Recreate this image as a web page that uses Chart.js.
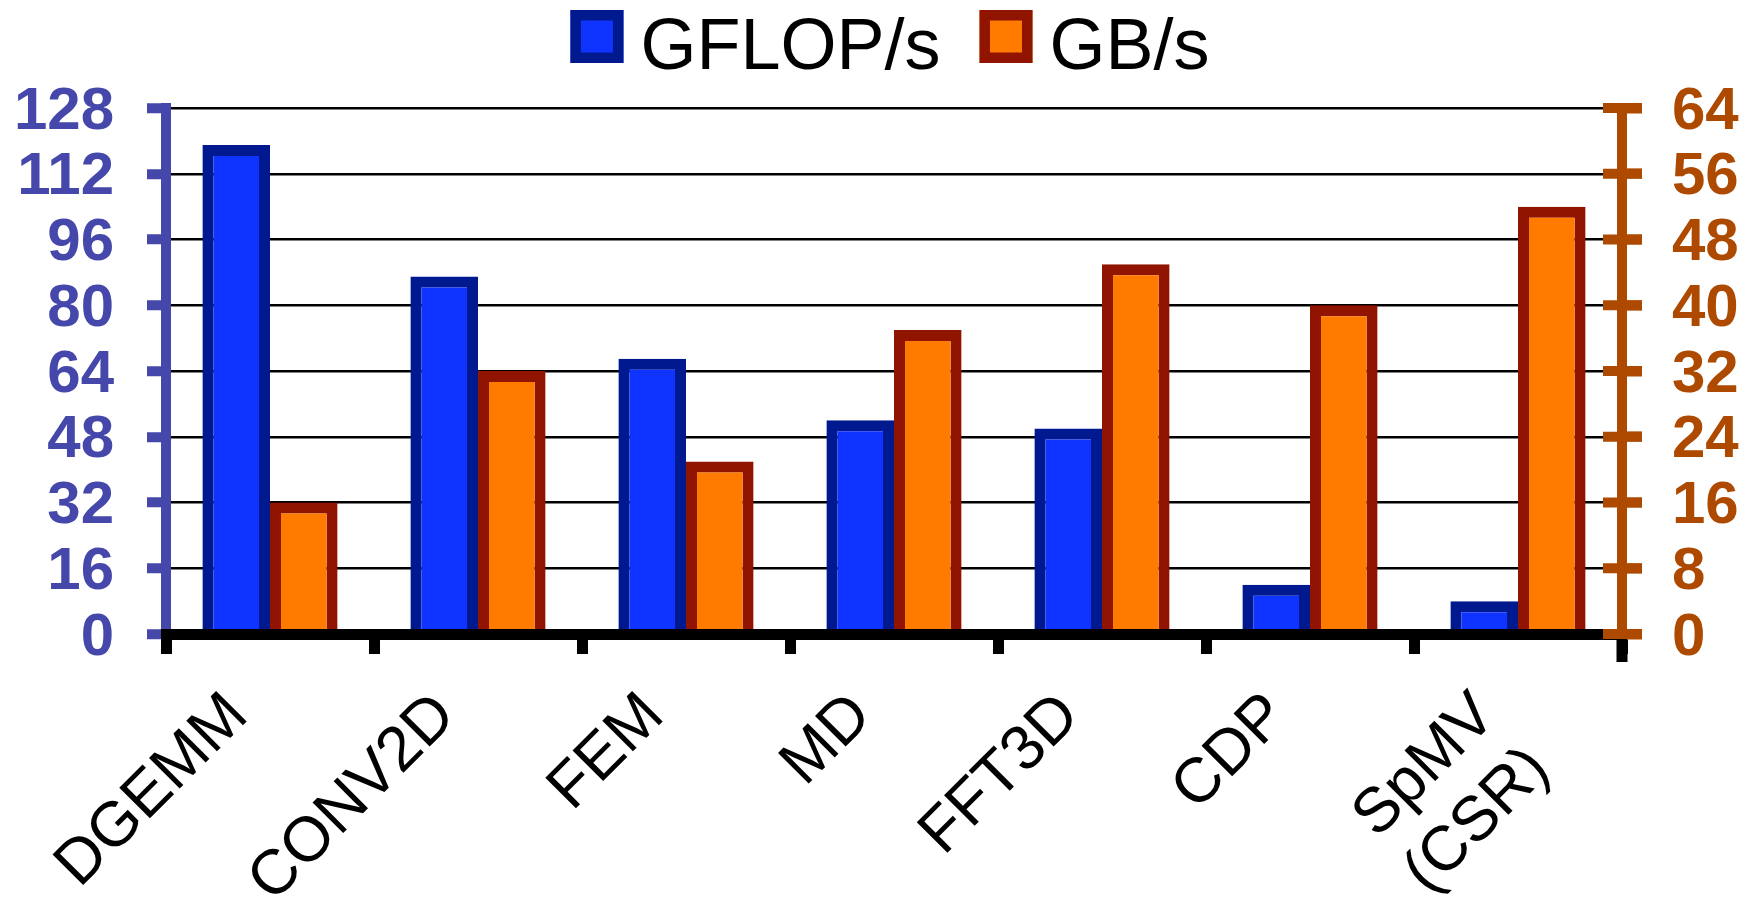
<!DOCTYPE html>
<html>
<head>
<meta charset="utf-8">
<title>GFLOP/s and GB/s by kernel</title>
<script src="https://cdn.jsdelivr.net/npm/chart.js@4.4.1/dist/chart.umd.min.js"></script>
<style>
  html, body { margin: 0; padding: 0; background: #ffffff; overflow: hidden; }
  #wrap { width: 1752px; height: 901px; position: relative; }
  canvas { display: block; }
</style>
</head>
<body>
<div id="wrap"><canvas id="chart" width="1752" height="901"></canvas></div>
<script>
// Kernels on the category axis
const categories = ['DGEMM', 'CONV2D', 'FEM', 'MD', 'FFT3D', 'CDP', ['SpMV', '(CSR)']];

// Compute throughput (left axis) and memory bandwidth (right axis)
const gflopsValues = [119, 87, 67, 52, 50, 12, 8];
const gbpsValues = [16, 32, 21, 37, 45, 40, 52];

// Axis tick values
const leftTicks = [0, 16, 32, 48, 64, 80, 96, 112, 128];
const rightTicks = [0, 8, 16, 24, 32, 40, 48, 56, 64];

const seriesNames = ['GFLOP/s', 'GB/s'];

const FONT = '"Liberation Sans", Arial, Helvetica, sans-serif';
const LEFT_COLOR = '#4548AA';
const RIGHT_COLOR = '#AD4A00';

Chart.defaults.font.family = FONT;

// Right axis: tick marks cross the axis line, and the final category tick runs a little deeper
const rightAxisMarks = {
  id: 'rightAxisMarks',
  afterDraw(chart) {
    const { ctx, chartArea } = chart;
    const s = chart.scales.y1;
    const g = s.options.grid;
    const xs = chart.scales.x;
    ctx.save();
    ctx.strokeStyle = g.tickColor;
    ctx.lineWidth = g.tickWidth;
    ctx.lineCap = 'butt';
    s.ticks.forEach((t, i) => {
      const py = s.getPixelForTick(i);
      ctx.beginPath();
      ctx.moveTo(chartArea.right - 19, py);
      ctx.lineTo(chartArea.right + g.tickLength, py);
      ctx.stroke();
    });
    ctx.strokeStyle = xs.options.grid.tickColor;
    ctx.lineWidth = xs.options.grid.tickWidth;
    ctx.beginPath();
    ctx.moveTo(chartArea.right, chartArea.bottom + 5);
    ctx.lineTo(chartArea.right, chartArea.bottom + 28);
    ctx.stroke();
    ctx.restore();
  }
};

// Legend row across the top
const legendRow = {
  id: 'legendRow',
  afterDraw(chart) {
    const { ctx } = chart;
    const box = 53, edge = 10.5, gap = 17, itemGap = 39, top = 10, baseline = 69;
    ctx.save();
    ctx.font = '72px ' + FONT;
    const items = chart.data.datasets.map(d => ({
      label: d.label, fill: d.backgroundColor, stroke: d.borderColor,
      w: ctx.measureText(d.label).width
    }));
    const total = items.reduce((sum, it) => sum + box + gap + it.w, 0) + itemGap * (items.length - 1);
    let x = 890 - total / 2;
    items.forEach(it => {
      ctx.fillStyle = it.fill;
      ctx.fillRect(x, top, box, box);
      ctx.strokeStyle = it.stroke;
      ctx.lineWidth = edge;
      ctx.strokeRect(x + edge / 2, top + edge / 2, box - edge, box - edge);
      ctx.fillStyle = '#000000';
      ctx.textAlign = 'left';
      ctx.textBaseline = 'alphabetic';
      ctx.fillText(it.label, x + box + gap, baseline);
      x += box + gap + it.w + itemGap;
    });
    ctx.restore();
  }
};

new Chart(document.getElementById('chart'), {
  type: 'bar',
  data: {
    labels: categories,
    datasets: [
      {
        label: seriesNames[0],
        data: gflopsValues,
        yAxisID: 'y',
        backgroundColor: '#1034FF',
        borderColor: '#00198F',
        borderWidth: 11,
        borderSkipped: 'start',
        categoryPercentage: 0.65,
        barPercentage: 1.0
      },
      {
        label: seriesNames[1],
        data: gbpsValues,
        yAxisID: 'y1',
        backgroundColor: '#FF7B00',
        borderColor: '#911400',
        borderWidth: 11,
        borderSkipped: 'start',
        categoryPercentage: 0.65,
        barPercentage: 1.0
      }
    ]
  },
  options: {
    responsive: false,
    animation: false,
    devicePixelRatio: 1,
    layout: { padding: { top: 108, left: 0, right: 0, bottom: 0 } },
    plugins: {
      legend: { display: false },
      tooltip: { enabled: false }
    },
    scales: {
      x: {
        offset: true,
        grid: {
          display: true,
          offset: true,
          drawOnChartArea: false,
          drawTicks: true,
          tickLength: 20,
          tickWidth: 11,
          tickColor: '#000000'
        },
        border: { display: true, color: '#000000', width: 11, z: 1 },
        ticks: {
          autoSkip: false,
          minRotation: 45,
          maxRotation: 45,
          color: '#000000',
          font: { family: FONT, size: 63, lineHeight: 1.2 },
          padding: 25,
          labelOffset: -32
        },
        afterFit(scale) { scale.height = 267; }
      },
      y: {
        position: 'left',
        min: leftTicks[0],
        max: leftTicks[leftTicks.length - 1],
        afterBuildTicks(scale) { scale.ticks = leftTicks.map(v => ({ value: v })); },
        grid: {
          color: '#000000',
          lineWidth: 2.5,
          drawTicks: true,
          tickLength: 19,
          tickWidth: 10,
          tickColor: LEFT_COLOR
        },
        border: { display: true, color: LEFT_COLOR, width: 10 },
        ticks: {
          autoSkip: false,
          color: LEFT_COLOR,
          font: { family: FONT, size: 60, weight: 'bold' },
          padding: 33,
          labelOffset: 4
        },
        afterFit(scale) { scale.width = 166; }
      },
      y1: {
        position: 'right',
        min: rightTicks[0],
        max: rightTicks[rightTicks.length - 1],
        afterBuildTicks(scale) { scale.ticks = rightTicks.map(v => ({ value: v })); },
        grid: {
          display: true,
          drawOnChartArea: false,
          drawTicks: true,
          tickLength: 20,
          tickWidth: 10,
          tickColor: RIGHT_COLOR
        },
        border: { display: true, color: RIGHT_COLOR, width: 10 },
        ticks: {
          autoSkip: false,
          color: RIGHT_COLOR,
          font: { family: FONT, size: 60, weight: 'bold' },
          padding: 30,
          labelOffset: 4
        },
        afterFit(scale) { scale.width = 130; }
      }
    }
  },
  plugins: [rightAxisMarks, legendRow]
});
</script>
</body>
</html>
